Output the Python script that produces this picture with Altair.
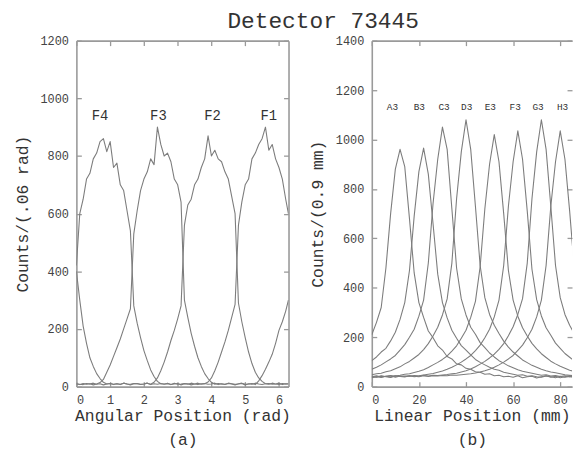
import altair as alt
import pandas as pd

FONT = "Liberation Mono"
LINE = "#7d7d7d"
FRAME = "#9a9a9a"
TXT = "#333333"

# ---------------- panel (a): angular position ----------------
ang_x = [0.0, 0.1, 0.2, 0.3, 0.4, 0.5, 0.6, 0.7, 0.8, 0.9,
         1.0, 1.1, 1.2, 1.3, 1.4, 1.5, 1.6, 1.7, 1.8, 1.9,
         2.0, 2.1, 2.2, 2.3, 2.4, 2.5, 2.6, 2.7, 2.8, 2.9,
         3.0, 3.1, 3.2, 3.3, 3.4, 3.5, 3.6, 3.7, 3.8, 3.9,
         4.0, 4.1, 4.2, 4.3, 4.4, 4.5, 4.6, 4.7, 4.8, 4.9,
         5.0, 5.1, 5.2, 5.3, 5.4, 5.5, 5.6, 5.7, 5.8, 5.9,
         6.0, 6.1, 6.2, 6.28]

f4 = [420, 600, 650, 720, 740, 790, 810, 850, 860, 815,
      850, 760, 775, 700, 680, 610, 540, 280, 220, 170,
      125, 90, 58, 35, 18, 10, 8, 12, 7, 9,
      11, 6, 10, 8, 12, 9, 7, 10, 11, 8,
      9, 12, 7, 10, 8, 11, 9, 6, 10, 12,
      8, 9, 11, 7, 20, 38, 60, 85, 112, 150,
      195, 225, 262, 300]
f3 = [9, 7, 11, 8, 10, 6, 9, 14, 25, 50,
      75, 105, 135, 165, 200, 235, 270, 530, 610, 680,
      720, 745, 790, 770, 900, 840, 800, 810, 780, 720,
      700, 640, 300, 240, 185, 140, 100, 70, 45, 28,
      15, 8, 11, 9, 7, 12, 10, 8, 9, 11,
      6, 10, 8, 12, 9, 7, 10, 11, 8, 9,
      12, 7, 10, 9]
f2 = [10, 8, 7, 11, 9, 12, 8, 10, 6, 9,
      11, 8, 10, 7, 12, 9, 8, 11, 10, 7,
      9, 12, 8, 15, 30, 55, 85, 120, 160, 195,
      235, 280, 560, 630, 650, 700, 720, 760, 790, 870,
      800, 820, 790, 780, 745, 720, 660, 600, 290, 225,
      170, 120, 80, 50, 30, 18, 10, 8, 12, 9,
      7, 11, 9, 10]
f1 = [400, 300, 210, 150, 100, 70, 45, 28, 15, 9,
      11, 7, 10, 8, 12, 9, 6, 10, 11, 8,
      9, 12, 7, 10, 8, 11, 9, 10, 7, 12,
      8, 9, 11, 10, 6, 9, 12, 8, 10, 16,
      30, 55, 85, 120, 155, 195, 240, 285, 560, 640,
      700, 720, 790, 810, 840, 860, 900, 820, 840, 790,
      760, 720, 650, 600]

ang_names = ["F4", "F3", "F2", "F1"]
ang_series = [f4, f3, f2, f1]
ang_label_x = [0.70, 2.43, 4.03, 5.70]
ang_label_y = [940, 940, 940, 940]
ang_ticks = [0, 1, 2, 3, 4, 5, 6]
cnt_ticks_a = [0, 200, 400, 600, 800, 1000, 1200]

# ---------------- panel (b): linear position ----------------
lin_x = [0, 2, 4, 6, 8, 10, 12, 14, 16, 18,
         20, 22, 24, 26, 28, 30, 32, 34, 36, 38,
         40, 42, 44, 46, 48, 50, 52, 54, 56, 58,
         60, 62, 64, 66, 68, 70, 72, 74, 76, 78,
         80, 82, 84, 86]

a3 = [210, 260, 320, 480, 700, 880, 960, 890, 680, 460, 340, 280, 225, 198, 165, 148, 122, 112, 92, 88,
      74, 70, 60, 58, 50, 52, 44, 46, 40, 42, 38, 44, 36, 40, 42, 35, 40, 44, 38, 42, 36, 40, 45, 38]
b3 = [105, 120, 140, 155, 185, 220, 272, 340, 470, 690, 870, 965, 860, 660, 455, 340, 278, 228, 196, 166,
      148, 128, 110, 98, 88, 78, 70, 66, 58, 54, 50, 46, 48, 42, 44, 40, 38, 43, 40, 36, 42, 38, 41, 37]
c3 = [70, 78, 88, 100, 112, 126, 148, 170, 200, 232, 285, 350, 500, 740, 920, 1050, 960, 720, 480, 355,
      290, 240, 212, 178, 158, 136, 120, 105, 95, 84, 76, 68, 62, 58, 54, 50, 46, 48, 43, 45, 41, 44, 40, 42]
d3 = [48, 52, 54, 60, 64, 72, 80, 92, 102, 116, 130, 150, 174, 205, 240, 290, 355, 500, 760, 950,
      1080, 960, 730, 490, 360, 292, 248, 215, 184, 160, 140, 124, 108, 97, 86, 78, 70, 64, 59, 56, 52, 48, 46, 44]
e3 = [38, 40, 42, 41, 44, 43, 46, 50, 52, 57, 62, 68, 77, 88, 98, 110, 124, 144, 165, 196,
      228, 280, 345, 485, 720, 900, 1020, 910, 700, 470, 350, 285, 238, 205, 175, 153, 133, 118, 103, 92, 82, 74, 66, 61]
f3b = [36, 40, 37, 42, 39, 44, 41, 43, 42, 45, 44, 47, 50, 53, 58, 63, 70, 78, 88, 99,
       112, 126, 146, 168, 198, 232, 282, 350, 490, 730, 910, 1035, 920, 710, 475, 352, 286, 238, 208, 176, 155, 134, 119, 104]
g3 = [42, 38, 44, 40, 37, 43, 41, 39, 44, 42, 40, 44, 43, 46, 45, 47, 49, 52, 54, 59,
      64, 71, 80, 91, 102, 116, 131, 151, 174, 206, 242, 292, 356, 500, 760, 950, 1080, 960, 730, 490, 360, 292, 248, 214]
h3 = [40, 44, 39, 42, 45, 38, 43, 41, 44, 40, 42, 46, 41, 44, 43, 45, 44, 47, 46, 48,
      50, 52, 55, 59, 64, 70, 78, 88, 99, 112, 126, 147, 168, 198, 232, 282, 350, 490, 730, 910, 1035, 920, 710, 475]

lin_names = ["A3", "B3", "C3", "D3", "E3", "F3", "G3", "H3"]
lin_series = [a3, b3, c3, d3, e3, f3b, g3, h3]
lin_label_x = [8.8, 20.2, 30.7, 40.3, 50.3, 60.9, 70.6, 81.0]
lin_label_y = [1130, 1130, 1130, 1130, 1130, 1130, 1130, 1130]
lin_ticks = [0, 20, 40, 60, 80]
cnt_ticks_b = [0, 200, 400, 600, 800, 1000, 1200, 1400]


def long_df(xs, names, series):
    rows = []
    for n, ys in zip(names, series):
        for x, y in zip(xs, ys):
            rows.append({"x": x, "y": y, "s": n})
    return pd.DataFrame(rows)


def panel(df, lab_df, xdom, ydom, xticks, yticks, xtitle, ytitle, w, h, lab_size, right_frame):
    xs = alt.Scale(domain=xdom, nice=False, zero=False)
    ys = alt.Scale(domain=ydom, nice=False, zero=False)
    main = alt.Chart(df).mark_line(color=LINE, strokeWidth=1.1, strokeJoin="round", clip=True).encode(
        x=alt.X("x:Q", scale=xs, axis=alt.Axis(
            values=xticks, format="d", title=xtitle, offset=-5, tickSize=5, domain=False,
            labelPadding=8, titlePadding=2, titleLineHeight=24)),
        y=alt.Y("y:Q", scale=ys, axis=alt.Axis(
            values=yticks, format="d", title=ytitle, offset=-5, tickSize=5, domain=False,
            labelPadding=8, titlePadding=10)),
        detail="s:N",
    )
    ticks2 = alt.Chart(df).mark_line(opacity=0, clip=True).encode(
        x=alt.X("x:Q", scale=xs, axis=alt.Axis(
            orient="top", values=xticks, labels=False, title=None, offset=-5,
            tickSize=5, domain=False)),
        y=alt.Y("y:Q", scale=ys, axis=alt.Axis(
            orient="right", values=yticks, labels=False, title=None, offset=-5,
            tickSize=5, domain=False)),
        detail="s:N",
    )
    frame1 = alt.Chart(df).mark_line(opacity=0, clip=True).encode(
        x=alt.X("x:Q", scale=xs, axis=alt.Axis(
            orient="bottom", ticks=False, labels=False, title=None, domain=True)),
        y=alt.Y("y:Q", scale=ys, axis=alt.Axis(
            orient="left", ticks=False, labels=False, title=None, domain=True)),
        detail="s:N",
    )
    if right_frame:
        yax = alt.Axis(orient="right", ticks=False, labels=False, title=None, domain=True)
    else:
        yax = None
    frame2 = alt.Chart(df).mark_line(opacity=0, clip=True).encode(
        x=alt.X("x:Q", scale=xs, axis=alt.Axis(
            orient="top", ticks=False, labels=False, title=None, domain=True)),
        y=alt.Y("y:Q", scale=ys, axis=yax),
        detail="s:N",
    )
    text = alt.Chart(lab_df).mark_text(font=FONT, fontSize=lab_size, color=TXT).encode(
        x=alt.X("x:Q", scale=xs, axis=None),
        y=alt.Y("y:Q", scale=ys, axis=None),
        text="t:N",
    )
    return alt.layer(main, ticks2, frame1, frame2, text).resolve_axis(
        x="independent", y="independent").properties(width=w, height=h)


df_a = long_df(ang_x, ang_names, ang_series)
lab_a = pd.DataFrame({"x": ang_label_x, "y": ang_label_y, "t": ang_names})
df_b = long_df(lin_x, lin_names, lin_series)
lab_b = pd.DataFrame({"x": lin_label_x, "y": lin_label_y, "t": lin_names})

left = panel(df_a, lab_a, [0, 6.2832], [0, 1200], ang_ticks, cnt_ticks_a,
             ["Angular Position (rad)", "(a)"], "Counts/(.06 rad)", 214, 349, 14, True)
right = panel(df_b, lab_b, [0, 85], [0, 1400], lin_ticks, cnt_ticks_b,
              ["Linear Position (mm)", "(b)"], "Counts/(0.9 mm)", 202, 349, 9.5, False)

chart = alt.hconcat(left, right, spacing=19).properties(
    title=alt.TitleParams("Detector 73445", font=FONT, fontSize=23, fontWeight="normal",
                          color=TXT, anchor="middle", dx=30, offset=2),
    padding={"left": 6, "top": 0, "right": 0, "bottom": 0},
).configure_view(stroke=None).configure_axis(
    grid=False, labelFont=FONT, labelFontSize=12, labelColor="#444444",
    titleFont=FONT, titleFontSize=16.5, titleFontWeight="normal", titleColor=TXT,
    tickColor=FRAME, tickWidth=1.3, domainColor=FRAME, domainWidth=1.6,
)

chart.save("out.html", embed_options={"renderer": "svg", "actions": False})
